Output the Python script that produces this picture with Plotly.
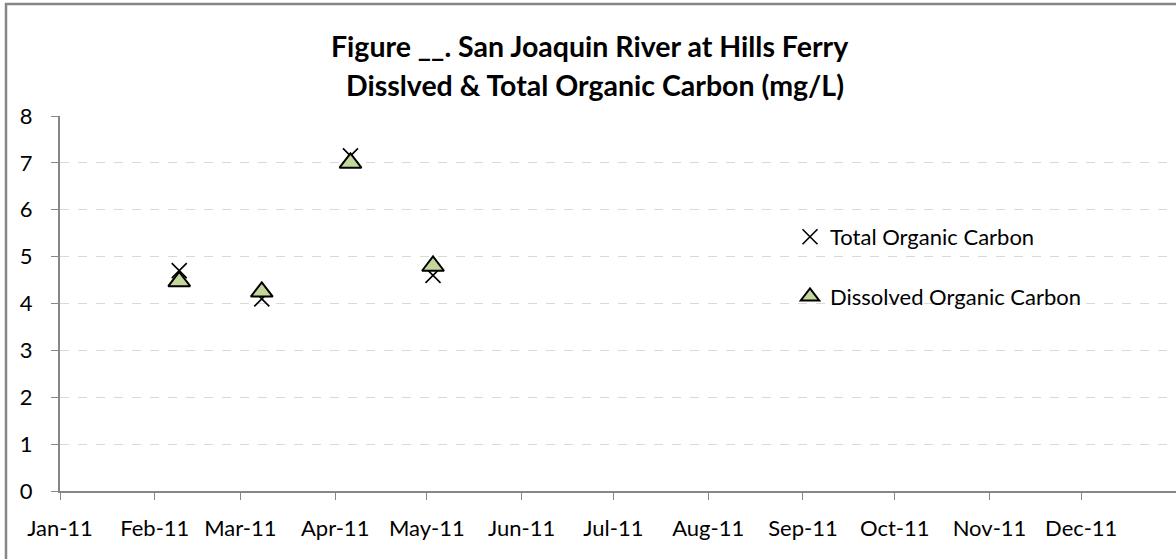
import plotly.graph_objects as go

dates = ["2011-02-09", "2011-03-08", "2011-04-06", "2011-05-03"]
toc = [4.7, 4.1, 7.15, 4.6]
doc = [4.47, 4.25, 7.0, 4.8]
tick_vals = ["2011-%02d-01" % m for m in range(1, 13)]
title1 = "Figure __. San Joaquin River at Hills Ferry"
title2 = "Disslved & Total Organic Carbon (mg/L)"

FONT = "Lato"
W, H = 1176, 559
L, R, T, B = 60, 0, 116, 68
pw, ph = W - L - R, H - T - B

def px(x):
    return (x - L) / pw

def py(y):
    return 1 - (y - T) / ph

fig = go.Figure()
fig.add_trace(go.Scatter(
    x=dates, y=toc, mode="markers", name="Total Organic Carbon",
    legendgroup="a",
    marker=dict(symbol="x-thin", size=15, color="black",
                line=dict(color="black", width=1.6)),
))
fig.add_trace(go.Scatter(
    x=dates, y=doc, mode="markers", name="Dissolved Organic Carbon",
    legendgroup="b",
    marker=dict(symbol="triangle-up", size=19, color="#c3d69b",
                line=dict(color="black", width=2)),
))

fig.update_layout(
    width=W, height=H,
    margin=dict(l=L, r=R, t=T, b=B),
    paper_bgcolor="white", plot_bgcolor="white",
    font=dict(family=FONT, size=22, color="black"),
    showlegend=True,
    legend=dict(x=px(790), y=py(216), xanchor="left", yanchor="top",
                bgcolor="rgba(0,0,0,0)", tracegroupgap=28,
                font=dict(family=FONT, size=22), itemwidth=30),
    xaxis=dict(
        type="date", range=["2011-01-01", "2012-01-01"],
        tickvals=tick_vals, tickformat="%b-%y",
        showgrid=False, zeroline=False,
        showline=True, linecolor="#868686", linewidth=2,
        ticks="outside", ticklen=7, tickcolor="#868686", tickwidth=1,
        ticklabelstandoff=10,
        tickfont=dict(family=FONT, size=22),
    ),
    yaxis=dict(
        range=[0, 8], dtick=1, tick0=0,
        showgrid=True, gridcolor="#d9d9d9", griddash="dash", gridwidth=1,
        zeroline=False,
        showline=True, linecolor="#868686", linewidth=2,
        ticks="outside", ticklen=7, tickcolor="#868686", tickwidth=1,
        ticklabelstandoff=14,
        tickfont=dict(family=FONT, size=22),
    ),
    shapes=[dict(type="rect", xref="paper", yref="paper",
                 x0=px(6), x1=px(1200), y0=py(600), y1=py(4),
                 line=dict(color="#868686", width=2.5), layer="below")],
    annotations=[
        dict(text="<b>%s</b>" % title1, xref="paper", yref="paper",
             x=px(590), y=py(46), xanchor="center", yanchor="middle",
             showarrow=False, font=dict(family=FONT, size=28.5)),
        dict(text="<b>%s</b>" % title2, xref="paper", yref="paper",
             x=px(595), y=py(85), xanchor="center", yanchor="middle",
             showarrow=False, font=dict(family=FONT, size=28.5)),
    ],
)

fig.write_html(
    "out.html",
    config={"displayModeBar": False},
    post_script="document.body.style.margin='0';document.body.style.overflow='hidden';",
)
